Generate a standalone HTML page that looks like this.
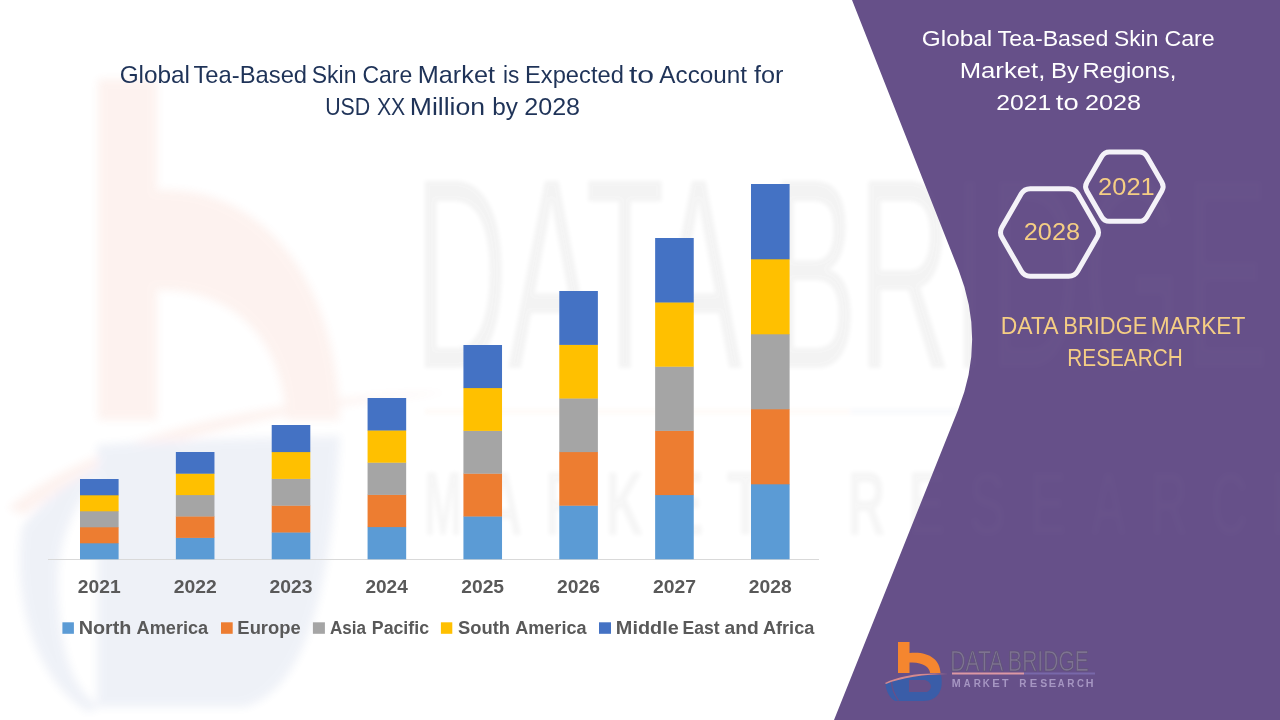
<!DOCTYPE html>
<html><head><meta charset="utf-8"><style>
html,body{margin:0;padding:0;background:#fff;overflow:hidden;}
svg{display:block;font-family:"Liberation Sans", sans-serif;will-change:transform;}
</style></head><body>
<svg width="1280" height="720" viewBox="0 0 1280 720">
<rect width="1280" height="720" fill="#FFFFFF"/>
<defs><filter id="bl" x="-5%" y="-5%" width="110%" height="110%"><feGaussianBlur stdDeviation="2"/></filter><filter id="bl2" x="-5%" y="-5%" width="110%" height="110%"><feGaussianBlur stdDeviation="4"/></filter></defs>
<g opacity="0.08" filter="url(#bl2)">
<path d="M98,79 L157,79 L157,190 C255,185 336,270 340,420 L286,420 C284,340 232,288 157,290 L157,420 L98,420 Z" fill="#E9663F"/>
<path d="M8,508 C90,440 250,398 450,392 C260,410 110,450 24,515 Z" fill="#E9663F"/>
<path d="M97,445 L97,707 L245,707 C300,690 330,610 340,436 C250,438 160,440 97,445 Z" fill="#3A5DA8"/>
<path d="M22,528 C12,600 35,680 88,712 L100,707 C70,690 58,640 58,580 C58,540 75,500 110,460 C70,480 40,500 22,528 Z" fill="#3A5DA8"/>
</g>
<g opacity="0.045" filter="url(#bl)">
<text x="414" y="368" font-size="272" fill="#000" textLength="856" lengthAdjust="spacingAndGlyphs">DATA BRIDGE</text>
</g>
<g opacity="0.035" filter="url(#bl)">
<rect x="425" y="409" width="425" height="5" fill="#F5862F"/>
<rect x="850" y="409" width="417" height="5" fill="#3A5DA8"/>
<text x="424.0" y="535" font-size="90" font-weight="bold" fill="#000" textLength="38" lengthAdjust="spacingAndGlyphs">M</text>
<text x="484.5" y="535" font-size="90" font-weight="bold" fill="#000" textLength="38" lengthAdjust="spacingAndGlyphs">A</text>
<text x="545.0" y="535" font-size="90" font-weight="bold" fill="#000" textLength="38" lengthAdjust="spacingAndGlyphs">R</text>
<text x="605.5" y="535" font-size="90" font-weight="bold" fill="#000" textLength="38" lengthAdjust="spacingAndGlyphs">K</text>
<text x="666.0" y="535" font-size="90" font-weight="bold" fill="#000" textLength="38" lengthAdjust="spacingAndGlyphs">E</text>
<text x="726.5" y="535" font-size="90" font-weight="bold" fill="#000" textLength="38" lengthAdjust="spacingAndGlyphs">T</text>
<text x="847.5" y="535" font-size="90" font-weight="bold" fill="#000" textLength="38" lengthAdjust="spacingAndGlyphs">R</text>
<text x="908.0" y="535" font-size="90" font-weight="bold" fill="#000" textLength="38" lengthAdjust="spacingAndGlyphs">E</text>
<text x="968.5" y="535" font-size="90" font-weight="bold" fill="#000" textLength="38" lengthAdjust="spacingAndGlyphs">S</text>
<text x="1029.0" y="535" font-size="90" font-weight="bold" fill="#000" textLength="38" lengthAdjust="spacingAndGlyphs">E</text>
<text x="1089.5" y="535" font-size="90" font-weight="bold" fill="#000" textLength="38" lengthAdjust="spacingAndGlyphs">A</text>
<text x="1150.0" y="535" font-size="90" font-weight="bold" fill="#000" textLength="38" lengthAdjust="spacingAndGlyphs">R</text>
<text x="1210.5" y="535" font-size="90" font-weight="bold" fill="#000" textLength="38" lengthAdjust="spacingAndGlyphs">C</text>
<text x="1271.0" y="535" font-size="90" font-weight="bold" fill="#000" textLength="38" lengthAdjust="spacingAndGlyphs">H</text>
</g>
<path d="M852,0 L1280,0 L1280,720 L834,720 L958,410 Q986,340 958.6,270 Z" fill="#665089"/>
<g opacity="0.008" filter="url(#bl)">
<text x="414" y="368" font-size="272" fill="#FFF" textLength="856" lengthAdjust="spacingAndGlyphs">DATA BRIDGE</text>
<text x="424.0" y="535" font-size="90" font-weight="bold" fill="#FFF" textLength="38" lengthAdjust="spacingAndGlyphs">M</text>
<text x="484.5" y="535" font-size="90" font-weight="bold" fill="#FFF" textLength="38" lengthAdjust="spacingAndGlyphs">A</text>
<text x="545.0" y="535" font-size="90" font-weight="bold" fill="#FFF" textLength="38" lengthAdjust="spacingAndGlyphs">R</text>
<text x="605.5" y="535" font-size="90" font-weight="bold" fill="#FFF" textLength="38" lengthAdjust="spacingAndGlyphs">K</text>
<text x="666.0" y="535" font-size="90" font-weight="bold" fill="#FFF" textLength="38" lengthAdjust="spacingAndGlyphs">E</text>
<text x="726.5" y="535" font-size="90" font-weight="bold" fill="#FFF" textLength="38" lengthAdjust="spacingAndGlyphs">T</text>
<text x="847.5" y="535" font-size="90" font-weight="bold" fill="#FFF" textLength="38" lengthAdjust="spacingAndGlyphs">R</text>
<text x="908.0" y="535" font-size="90" font-weight="bold" fill="#FFF" textLength="38" lengthAdjust="spacingAndGlyphs">E</text>
<text x="968.5" y="535" font-size="90" font-weight="bold" fill="#FFF" textLength="38" lengthAdjust="spacingAndGlyphs">S</text>
<text x="1029.0" y="535" font-size="90" font-weight="bold" fill="#FFF" textLength="38" lengthAdjust="spacingAndGlyphs">E</text>
<text x="1089.5" y="535" font-size="90" font-weight="bold" fill="#FFF" textLength="38" lengthAdjust="spacingAndGlyphs">A</text>
<text x="1150.0" y="535" font-size="90" font-weight="bold" fill="#FFF" textLength="38" lengthAdjust="spacingAndGlyphs">R</text>
<text x="1210.5" y="535" font-size="90" font-weight="bold" fill="#FFF" textLength="38" lengthAdjust="spacingAndGlyphs">C</text>
<text x="1271.0" y="535" font-size="90" font-weight="bold" fill="#FFF" textLength="38" lengthAdjust="spacingAndGlyphs">H</text>
</g>
<rect x="48" y="559" width="771" height="1" fill="#D9D9D9"/>
<rect x="80.00" y="543.00" width="38.6" height="16.30" fill="#5B9BD5"/>
<rect x="80.00" y="527.00" width="38.6" height="16.30" fill="#ED7D31"/>
<rect x="80.00" y="511.00" width="38.6" height="16.30" fill="#A5A5A5"/>
<rect x="80.00" y="495.00" width="38.6" height="16.30" fill="#FFC000"/>
<rect x="80.00" y="479.00" width="38.6" height="16.30" fill="#4472C4"/>
<rect x="175.86" y="537.60" width="38.6" height="21.70" fill="#5B9BD5"/>
<rect x="175.86" y="516.20" width="38.6" height="21.70" fill="#ED7D31"/>
<rect x="175.86" y="494.80" width="38.6" height="21.70" fill="#A5A5A5"/>
<rect x="175.86" y="473.40" width="38.6" height="21.70" fill="#FFC000"/>
<rect x="175.86" y="452.00" width="38.6" height="21.70" fill="#4472C4"/>
<rect x="271.71" y="532.20" width="38.6" height="27.10" fill="#5B9BD5"/>
<rect x="271.71" y="505.40" width="38.6" height="27.10" fill="#ED7D31"/>
<rect x="271.71" y="478.60" width="38.6" height="27.10" fill="#A5A5A5"/>
<rect x="271.71" y="451.80" width="38.6" height="27.10" fill="#FFC000"/>
<rect x="271.71" y="425.00" width="38.6" height="27.10" fill="#4472C4"/>
<rect x="367.57" y="526.80" width="38.6" height="32.50" fill="#5B9BD5"/>
<rect x="367.57" y="494.60" width="38.6" height="32.50" fill="#ED7D31"/>
<rect x="367.57" y="462.40" width="38.6" height="32.50" fill="#A5A5A5"/>
<rect x="367.57" y="430.20" width="38.6" height="32.50" fill="#FFC000"/>
<rect x="367.57" y="398.00" width="38.6" height="32.50" fill="#4472C4"/>
<rect x="463.43" y="516.20" width="38.6" height="43.10" fill="#5B9BD5"/>
<rect x="463.43" y="473.40" width="38.6" height="43.10" fill="#ED7D31"/>
<rect x="463.43" y="430.60" width="38.6" height="43.10" fill="#A5A5A5"/>
<rect x="463.43" y="387.80" width="38.6" height="43.10" fill="#FFC000"/>
<rect x="463.43" y="345.00" width="38.6" height="43.10" fill="#4472C4"/>
<rect x="559.28" y="505.40" width="38.6" height="53.90" fill="#5B9BD5"/>
<rect x="559.28" y="451.80" width="38.6" height="53.90" fill="#ED7D31"/>
<rect x="559.28" y="398.20" width="38.6" height="53.90" fill="#A5A5A5"/>
<rect x="559.28" y="344.60" width="38.6" height="53.90" fill="#FFC000"/>
<rect x="559.28" y="291.00" width="38.6" height="53.90" fill="#4472C4"/>
<rect x="655.14" y="494.80" width="38.6" height="64.50" fill="#5B9BD5"/>
<rect x="655.14" y="430.60" width="38.6" height="64.50" fill="#ED7D31"/>
<rect x="655.14" y="366.40" width="38.6" height="64.50" fill="#A5A5A5"/>
<rect x="655.14" y="302.20" width="38.6" height="64.50" fill="#FFC000"/>
<rect x="655.14" y="238.00" width="38.6" height="64.50" fill="#4472C4"/>
<rect x="751.00" y="484.00" width="38.6" height="75.30" fill="#5B9BD5"/>
<rect x="751.00" y="409.00" width="38.6" height="75.30" fill="#ED7D31"/>
<rect x="751.00" y="334.00" width="38.6" height="75.30" fill="#A5A5A5"/>
<rect x="751.00" y="259.00" width="38.6" height="75.30" fill="#FFC000"/>
<rect x="751.00" y="184.00" width="38.6" height="75.30" fill="#4472C4"/>
<text x="77.83" y="592.80" font-size="18.7" fill="#595959" font-weight="bold" textLength="42.80" lengthAdjust="spacingAndGlyphs" >2021</text>
<text x="173.69" y="592.80" font-size="18.7" fill="#595959" font-weight="bold" textLength="43.05" lengthAdjust="spacingAndGlyphs" >2022</text>
<text x="269.54" y="592.80" font-size="18.7" fill="#595959" font-weight="bold" textLength="42.97" lengthAdjust="spacingAndGlyphs" >2023</text>
<text x="365.41" y="592.80" font-size="18.7" fill="#595959" font-weight="bold" textLength="42.36" lengthAdjust="spacingAndGlyphs" >2024</text>
<text x="461.26" y="592.80" font-size="18.7" fill="#595959" font-weight="bold" textLength="42.80" lengthAdjust="spacingAndGlyphs" >2025</text>
<text x="557.12" y="592.80" font-size="18.7" fill="#595959" font-weight="bold" textLength="42.97" lengthAdjust="spacingAndGlyphs" >2026</text>
<text x="652.97" y="592.80" font-size="18.7" fill="#595959" font-weight="bold" textLength="43.12" lengthAdjust="spacingAndGlyphs" >2027</text>
<text x="748.83" y="592.80" font-size="18.7" fill="#595959" font-weight="bold" textLength="42.86" lengthAdjust="spacingAndGlyphs" >2028</text>
<rect x="62.40" y="622.3" width="11.50" height="11.5" fill="#5B9BD5"/>
<rect x="221.00" y="622.3" width="11.70" height="11.5" fill="#ED7D31"/>
<rect x="312.90" y="622.3" width="12.00" height="11.5" fill="#A5A5A5"/>
<rect x="440.90" y="622.3" width="11.40" height="11.5" fill="#FFC000"/>
<rect x="599.00" y="622.3" width="12.00" height="11.5" fill="#4472C4"/>
<text x="78.68" y="633.50" font-size="17.6" fill="#595959" font-weight="bold" textLength="52.75" lengthAdjust="spacingAndGlyphs" >North</text>
<text x="136.55" y="633.50" font-size="17.6" fill="#595959" font-weight="bold" textLength="71.64" lengthAdjust="spacingAndGlyphs" >America</text>
<text x="237.37" y="633.50" font-size="17.6" fill="#595959" font-weight="bold" textLength="63.36" lengthAdjust="spacingAndGlyphs" >Europe</text>
<text x="329.97" y="633.50" font-size="17.6" fill="#595959" font-weight="bold" textLength="36.12" lengthAdjust="spacingAndGlyphs" >Asia</text>
<text x="371.81" y="633.50" font-size="17.6" fill="#595959" font-weight="bold" textLength="57.21" lengthAdjust="spacingAndGlyphs" >Pacific</text>
<text x="458.07" y="633.50" font-size="17.6" fill="#595959" font-weight="bold" textLength="51.97" lengthAdjust="spacingAndGlyphs" >South</text>
<text x="515.25" y="633.50" font-size="17.6" fill="#595959" font-weight="bold" textLength="71.23" lengthAdjust="spacingAndGlyphs" >America</text>
<text x="615.87" y="633.50" font-size="17.6" fill="#595959" font-weight="bold" textLength="62.91" lengthAdjust="spacingAndGlyphs" >Middle</text>
<text x="682.58" y="633.50" font-size="17.6" fill="#595959" font-weight="bold" textLength="37.04" lengthAdjust="spacingAndGlyphs" >East</text>
<text x="724.44" y="633.50" font-size="17.6" fill="#595959" font-weight="bold" textLength="34.23" lengthAdjust="spacingAndGlyphs" >and</text>
<text x="762.95" y="633.50" font-size="17.6" fill="#595959" font-weight="bold" textLength="51.34" lengthAdjust="spacingAndGlyphs" >Africa</text>
<text x="119.68" y="82.90" font-size="24.4" fill="#1F3358" font-weight="normal" textLength="70.35" lengthAdjust="spacingAndGlyphs" >Global</text>
<text x="193.38" y="82.90" font-size="24.4" fill="#1F3358" font-weight="normal" textLength="113.72" lengthAdjust="spacingAndGlyphs" >Tea-Based</text>
<text x="311.76" y="82.90" font-size="24.4" fill="#1F3358" font-weight="normal" textLength="44.74" lengthAdjust="spacingAndGlyphs" >Skin</text>
<text x="362.43" y="82.90" font-size="24.4" fill="#1F3358" font-weight="normal" textLength="49.84" lengthAdjust="spacingAndGlyphs" >Care</text>
<text x="417.73" y="82.90" font-size="24.4" fill="#1F3358" font-weight="normal" textLength="77.26" lengthAdjust="spacingAndGlyphs" >Market</text>
<text x="502.89" y="82.90" font-size="24.4" fill="#1F3358" font-weight="normal" textLength="16.33" lengthAdjust="spacingAndGlyphs" >is</text>
<text x="525.06" y="82.90" font-size="24.4" fill="#1F3358" font-weight="normal" textLength="98.77" lengthAdjust="spacingAndGlyphs" >Expected</text>
<text x="628.94" y="82.90" font-size="24.4" fill="#1F3358" font-weight="normal" textLength="25.12" lengthAdjust="spacingAndGlyphs" >to</text>
<text x="659.35" y="82.90" font-size="24.4" fill="#1F3358" font-weight="normal" textLength="87.73" lengthAdjust="spacingAndGlyphs" >Account</text>
<text x="754.04" y="82.90" font-size="24.4" fill="#1F3358" font-weight="normal" textLength="29.48" lengthAdjust="spacingAndGlyphs" >for</text>
<text x="325.15" y="115.00" font-size="24.4" fill="#1F3358" font-weight="normal" textLength="45.07" lengthAdjust="spacingAndGlyphs" >USD</text>
<text x="376.92" y="115.00" font-size="24.4" fill="#1F3358" font-weight="normal" textLength="28.32" lengthAdjust="spacingAndGlyphs" >XX</text>
<text x="409.72" y="115.00" font-size="24.4" fill="#1F3358" font-weight="normal" textLength="75.41" lengthAdjust="spacingAndGlyphs" >Million</text>
<text x="492.18" y="115.00" font-size="24.4" fill="#1F3358" font-weight="normal" textLength="25.66" lengthAdjust="spacingAndGlyphs" >by</text>
<text x="524.24" y="115.00" font-size="24.4" fill="#1F3358" font-weight="normal" textLength="55.85" lengthAdjust="spacingAndGlyphs" >2028</text>
<text x="921.88" y="45.75" font-size="22.6" fill="#FFFFFF" font-weight="normal" textLength="70.35" lengthAdjust="spacingAndGlyphs" >Global</text>
<text x="997.59" y="45.75" font-size="22.6" fill="#FFFFFF" font-weight="normal" textLength="110.77" lengthAdjust="spacingAndGlyphs" >Tea-Based</text>
<text x="1113.96" y="45.75" font-size="22.6" fill="#FFFFFF" font-weight="normal" textLength="44.42" lengthAdjust="spacingAndGlyphs" >Skin</text>
<text x="1164.42" y="45.75" font-size="22.6" fill="#FFFFFF" font-weight="normal" textLength="50.36" lengthAdjust="spacingAndGlyphs" >Care</text>
<text x="959.69" y="78.00" font-size="22.6" fill="#FFFFFF" font-weight="normal" textLength="85.61" lengthAdjust="spacingAndGlyphs" >Market,</text>
<text x="1050.92" y="78.00" font-size="22.6" fill="#FFFFFF" font-weight="normal" textLength="28.12" lengthAdjust="spacingAndGlyphs" >By</text>
<text x="1082.45" y="78.00" font-size="22.6" fill="#FFFFFF" font-weight="normal" textLength="93.89" lengthAdjust="spacingAndGlyphs" >Regions,</text>
<text x="996.26" y="110.00" font-size="22.6" fill="#FFFFFF" font-weight="normal" textLength="54.95" lengthAdjust="spacingAndGlyphs" >2021</text>
<text x="1055.84" y="110.00" font-size="22.6" fill="#FFFFFF" font-weight="normal" textLength="22.81" lengthAdjust="spacingAndGlyphs" >to</text>
<text x="1084.98" y="110.00" font-size="22.6" fill="#FFFFFF" font-weight="normal" textLength="56.11" lengthAdjust="spacingAndGlyphs" >2028</text>
<path d="M1002.00,237.60 Q999.00,232.40 1002.00,227.20 L1021.25,193.86 Q1024.25,188.67 1030.25,188.67 L1068.75,188.67 Q1074.75,188.67 1077.75,193.86 L1097.00,227.20 Q1100.00,232.40 1097.00,237.60 L1077.75,270.94 Q1074.75,276.13 1068.75,276.13 L1030.25,276.13 Q1024.25,276.13 1021.25,270.94 Z" fill="none" stroke="#F4F2F8" stroke-width="5"/>
<path d="M1086.85,190.93 Q1084.35,186.60 1086.85,182.27 L1101.85,156.29 Q1104.35,151.96 1109.35,151.96 L1139.35,151.96 Q1144.35,151.96 1146.85,156.29 L1161.85,182.27 Q1164.35,186.60 1161.85,190.93 L1146.85,216.91 Q1144.35,221.24 1139.35,221.24 L1109.35,221.24 Q1104.35,221.24 1101.85,216.91 Z" fill="none" stroke="#F4F2F8" stroke-width="5"/>
<text x="1023.73" y="240.40" font-size="24.3" fill="#F5CE84" font-weight="normal" textLength="56.38" lengthAdjust="spacingAndGlyphs" >2028</text>
<text x="1098.12" y="194.60" font-size="24.3" fill="#F5CE84" font-weight="normal" textLength="56.62" lengthAdjust="spacingAndGlyphs" >2021</text>
<text x="1000.82" y="334.10" font-size="23.7" fill="#F5CE84" font-weight="normal" textLength="57.72" lengthAdjust="spacingAndGlyphs" >DATA</text>
<text x="1063.30" y="334.10" font-size="23.7" fill="#F5CE84" font-weight="normal" textLength="84.04" lengthAdjust="spacingAndGlyphs" >BRIDGE</text>
<text x="1150.63" y="334.10" font-size="23.7" fill="#F5CE84" font-weight="normal" textLength="94.79" lengthAdjust="spacingAndGlyphs" >MARKET</text>
<text x="1067.30" y="366.20" font-size="23.7" fill="#F5CE84" font-weight="normal" textLength="115.40" lengthAdjust="spacingAndGlyphs" >RESEARCH</text>
<path d="M898,642 L909.5,642 L909.5,653 C928,651 940,659 940.5,673 L930,673 C930,667 922,661.5 909.5,662.5 L909.5,673 L898,673 Z" fill="#F5862F"/>
<path d="M885.5,683.5 C900,677 925,674.5 941,675 C944,690 938,701 923,701 L895,701 C889,697 886,691 885.5,683.5 Z M909,680 L909,692 L927,692 C933,689 932,682 925,680 Z" fill="#3A5DA8" fill-rule="evenodd"/>
<path d="M885,683 C900,675 925,672 948,674 C925,674 900,678 886,684 Z" fill="#D58A8E"/>
<path d="M891.5,682 C892,689 894.5,695 898.5,700.5" fill="none" stroke="#665089" stroke-width="1.4"/>
<text x="950.32" y="671.00" font-size="29" fill="#7E7392" font-weight="normal" textLength="138.55" lengthAdjust="spacingAndGlyphs" stroke="#5C5270" stroke-width="0.7">DATA BRIDGE</text>
<rect x="952" y="672.5" width="72" height="2" fill="#DC98A4"/>
<rect x="1024" y="672.5" width="71" height="2" fill="#7868AA"/>
<text x="951.78" y="686.50" font-size="10.7" fill="#A696C2" font-weight="bold" textLength="8.94" lengthAdjust="spacingAndGlyphs" >M</text>
<text x="963.77" y="686.50" font-size="10.7" fill="#A696C2" font-weight="bold" textLength="6.78" lengthAdjust="spacingAndGlyphs" >A</text>
<text x="973.64" y="686.50" font-size="10.7" fill="#A696C2" font-weight="bold" textLength="7.17" lengthAdjust="spacingAndGlyphs" >R</text>
<text x="982.85" y="686.50" font-size="10.7" fill="#A696C2" font-weight="bold" textLength="7.04" lengthAdjust="spacingAndGlyphs" >K</text>
<text x="992.25" y="686.50" font-size="10.7" fill="#A696C2" font-weight="bold" textLength="7.49" lengthAdjust="spacingAndGlyphs" >E</text>
<text x="1001.88" y="686.50" font-size="10.7" fill="#A696C2" font-weight="bold" textLength="6.54" lengthAdjust="spacingAndGlyphs" >T</text>
<text x="1019.34" y="686.50" font-size="10.7" fill="#A696C2" font-weight="bold" textLength="7.17" lengthAdjust="spacingAndGlyphs" >R</text>
<text x="1029.75" y="686.50" font-size="10.7" fill="#A696C2" font-weight="bold" textLength="7.49" lengthAdjust="spacingAndGlyphs" >E</text>
<text x="1040.20" y="686.50" font-size="10.7" fill="#A696C2" font-weight="bold" textLength="7.01" lengthAdjust="spacingAndGlyphs" >S</text>
<text x="1048.75" y="686.50" font-size="10.7" fill="#A696C2" font-weight="bold" textLength="7.49" lengthAdjust="spacingAndGlyphs" >E</text>
<text x="1057.77" y="686.50" font-size="10.7" fill="#A696C2" font-weight="bold" textLength="6.78" lengthAdjust="spacingAndGlyphs" >A</text>
<text x="1067.34" y="686.50" font-size="10.7" fill="#A696C2" font-weight="bold" textLength="7.17" lengthAdjust="spacingAndGlyphs" >R</text>
<text x="1077.10" y="686.50" font-size="10.7" fill="#A696C2" font-weight="bold" textLength="6.96" lengthAdjust="spacingAndGlyphs" >C</text>
<text x="1085.78" y="686.50" font-size="10.7" fill="#A696C2" font-weight="bold" textLength="7.74" lengthAdjust="spacingAndGlyphs" >H</text>
</svg>
</body></html>
